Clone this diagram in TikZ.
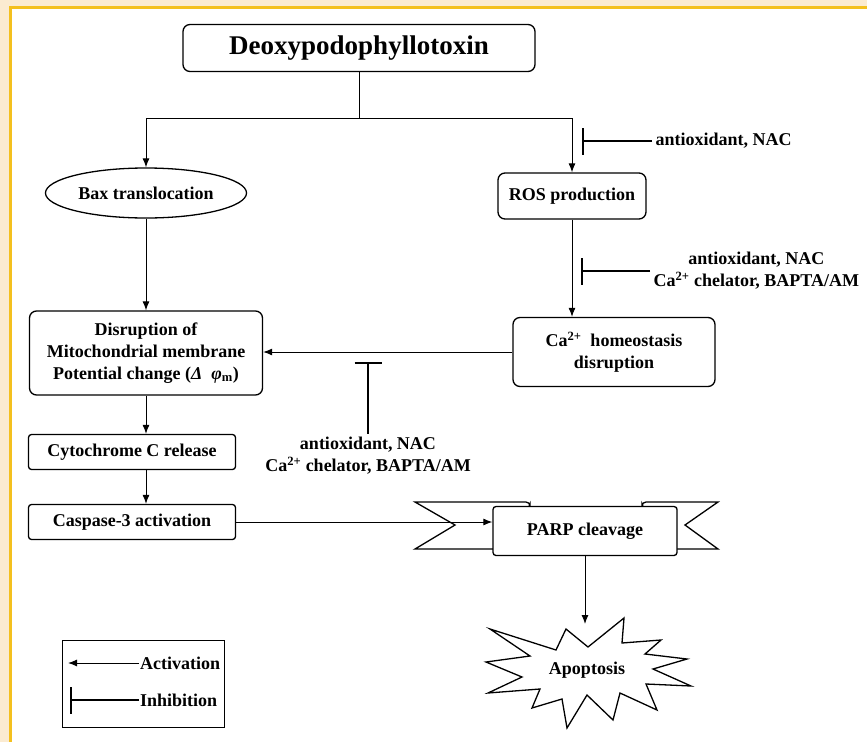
\documentclass[tikz,border=0pt]{standalone}
\usepackage{fontspec}
\setmainfont{Liberation Serif}
\usetikzlibrary{arrows.meta,shapes.geometric,positioning,calc}
\definecolor{cream}{HTML}{FBEBD1}
\definecolor{gold}{HTML}{F4C01E}

\begin{document}
\begin{tikzpicture}[x=1pt,y=-1pt,
  every node/.style={font=\fontsize{18}{22}\selectfont\bfseries},
  box/.style={draw, line width=1.3pt, rounded corners=7pt, align=center, fill=white},
  oval/.style={draw, line width=1.3pt, ellipse},
  act/.style={-{Latex[length=9pt,width=7pt]}, line width=1pt},
  inhib/.style={-{Bar[width=27pt,line width=1.8pt]}, line width=1.8pt},
  lbl/.style={align=center}]
  \useasboundingbox (0,0) rectangle (867,742);
  \fill[cream] (0,0) rectangle (867,742);
  \fill[white] (12,9) rectangle (867,742);
  \fill[gold] (9,6) rectangle (12,742);
  \fill[gold] (9,6) rectangle (867,9);

  \node[box, minimum width=352pt, minimum height=47pt, font=\fontsize{27}{30}\selectfont\bfseries] (deoxy) at (359,48) {Deoxypodophyllotoxin};
  \node[oval, minimum width=198pt, minimum height=50pt] (bax) at (146,193) {Bax translocation};
  \node[box, minimum width=148pt, minimum height=46pt] (ros) at (572,196) {ROS production};
  \node[box, minimum width=202pt, minimum height=69pt] (ca) at (614,352) {Ca\textsuperscript{2+}\ \ homeostasis\\disruption};
  \node[box, minimum width=233pt, minimum height=84pt] (mito) at (146,353) {Disruption of\\Mitochondrial membrane\\Potential change (\textit{Δ}\ \ \textit{φ}\textsubscript{m})};
  \node[box, minimum width=207pt, minimum height=35pt, rounded corners=3pt] (cyto) at (132,452) {Cytochrome C release};
  \node[box, minimum width=207pt, minimum height=35pt, rounded corners=3pt] (casp) at (132,522) {Caspase-3 activation};

  \draw[line width=1.3pt, fill=white] (493,549) -- (415,549) -- (455,525) -- (415,502) [rounded corners=4pt] -- (530,502) -- (530,508) [sharp corners] -- (493,508);
  \draw[line width=1.3pt, fill=white] (677,549) -- (718,549) -- (685,525) -- (718,502) [rounded corners=4pt] -- (642,502) -- (642,508) [sharp corners] -- (677,508);
  \node[box, minimum width=184pt, minimum height=49pt, rounded corners=3pt] (parp) at (585,531) {PARP cleavage};

  \draw[line width=1.3pt, fill=white] (490,629) -- (556,650) -- (566,629) -- (588,647) -- (624,618) -- (622,643) -- (661,640) -- (645,654) -- (687,659) -- (653,669) -- (691,686) -- (646,684) -- (657,710) -- (620,693) -- (613,720) -- (587,695) -- (567,728) -- (562,699) -- (532,708) -- (540,689) -- (488,693) -- (522,677) -- (486,662) -- (530,656) -- cycle;
  \node (apop) at (587,670) {Apoptosis};
  \coordinate (apoptop) at (585,624);

  \coordinate (split) at (359,118);
  \draw[line width=1pt] (deoxy.south) -- (split);
  \draw[act] (split) -| (bax.north);
  \draw[act] (split) -| (ros.north);
  \draw[act] (bax.south) -- (mito.north);
  \draw[act] (ros.south) -- (ros.south |- ca.north);
  \draw[act] (ca.west) -- (ca.west -| mito.east);
  \draw[act] (mito.south) -- (mito.south |- cyto.north);
  \draw[act] (cyto.south -| mito.south) -- (casp.north -| mito.south);
  \draw[act] (casp.east) -- (casp.east -| parp.west);
  \draw[act] (parp.south) -- (parp.south |- apoptop);

  \node[anchor=west] (nac1) at (652,141) {antioxidant, NAC};
  \coordinate (bar1) at (582,141);
  \draw[inhib] (nac1.west) -- (bar1);
  \node[lbl, anchor=west] (nac2) at (650,271) {antioxidant, NAC\\Ca\textsuperscript{2+} chelator, BAPTA/AM};
  \coordinate (bar2) at (581,271);
  \draw[inhib] (nac2.west) -- (bar2);
  \node[lbl] (nac3) at (368,456) {antioxidant, NAC\\Ca\textsuperscript{2+} chelator, BAPTA/AM};
  \coordinate (bar3) at (368,362);
  \draw[inhib] (nac3.north) -- (bar3);

  \node[draw, line width=1pt, minimum width=162pt, minimum height=87pt] (legend) at (143,683.5) {};
  \node[anchor=west, inner sep=1pt] (actlbl) at (139,663) {Activation};
  \coordinate (acttip) at (68,663);
  \draw[act] (actlbl.west) -- (acttip);
  \node[anchor=west, inner sep=1pt] (inhlbl) at (139,700) {Inhibition};
  \coordinate (inhbar) at (70,700);
  \draw[inhib] (inhlbl.west) -- (inhbar);
\end{tikzpicture}
\end{document}
